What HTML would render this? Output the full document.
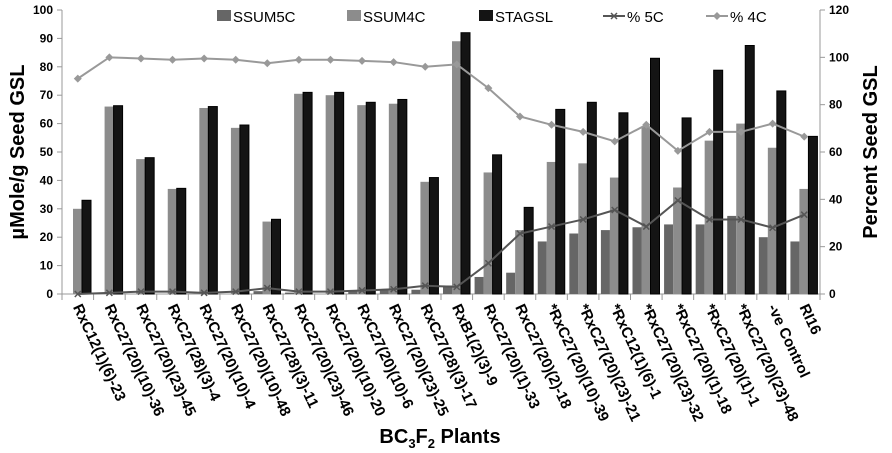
<!DOCTYPE html>
<html><head><meta charset="utf-8"><style>
body{margin:0;background:#fff}
svg{display:block;font-family:"Liberation Sans",sans-serif}
</style></head><body>
<svg id="c" width="892" height="453"></svg>
<script>
const categories=["RxC12(1)(6)-23","RxC27(20)(10)-36","RxC27(20)(23)-45","RxC27(28)(3)-4","RxC27(20)(10)-4","RxC27(20)(10)-48","RxC27(28)(3)-11","RxC27(20)(23)-46","RxC27(20)(10)-20","RxC27(20)(10)-6","RxC27(20)(23)-25","RxC27(28)(3)-17","RxB1(2)(3)-9","RxC27(20)(1)-33","RxC27(20)(2)-18","*RxC27(20)(10)-39","*RxC27(20)(23)-21","*RxC12(1)(6)-1","*RxC27(20)(23)-32","*RxC27(20)(1)-18","*RxC27(20)(1)-1","*RxC27(20)(23)-48","-ve Control","RI16"];
const ssum5c=[0,0,0,0,0,0,1,0.5,0,1,1.5,1.5,3,6,7.5,18.5,21.3,22.5,23.5,24.5,24.5,27.5,20,18.5];
const ssum4c=[30,66,47.5,37,65.5,58.5,25.5,70.5,70,66.5,67,39.5,89,42.8,22.5,46.5,46,41,59,37.5,54,60,51.5,37];
const stagsl=[33,66.3,48,37.2,66,59.5,26.3,71,71,67.5,68.5,41,92,49,30.5,65,67.5,63.8,83,62,78.8,87.5,71.5,55.5];
const pct4c=[91,100,99.5,99,99.5,99,97.5,99,99,98.5,98,96,97,87,75,71.5,68.5,64.5,71.5,60.5,68.5,68.5,72,66.5];
const pct5c=[0,0.5,1,1,0.5,1,2.5,1,1,1.5,2,3.5,3,13,25.5,28.5,31.5,35.5,28.5,39.5,31.5,31.5,28,33.5];
const leftTicks=[0,10,20,30,40,50,60,70,80,90,100];
const rightTicks=[0,20,40,60,80,100,120];

const NS="http://www.w3.org/2000/svg";
const svg=document.getElementById('c');
const X0=62,X1=820,Y0=294,Y1=10;
const cw=(X1-X0)/categories.length;
const yL=v=>Y0-(v/100)*(Y0-Y1);
const yR=v=>Y0-(v/120)*(Y0-Y1);
const xC=i=>X0+cw*(i+0.5);
function mk(tag,attrs,parent){const e=document.createElementNS(NS,tag);for(const k in attrs)e.setAttribute(k,attrs[k]);(parent||svg).appendChild(e);return e;}

// axes
let a=mk('line',{x1:X0,y1:Y1,x2:X0,y2:Y0,stroke:'#999'});


a=mk('line',{x1:X1,y1:Y1,x2:X1,y2:Y0,stroke:'#999'});


a=mk('line',{x1:X0,y1:Y0,x2:X1,y2:Y0,stroke:'#999'});


leftTicks.forEach(v=>{
  mk('line',{x1:X0-5,x2:X0,y1:yL(v),y2:yL(v),stroke:'#999'});
  const t=mk('text',{x:X0-9,y:yL(v)+4,'text-anchor':'end','font-size':12,'font-weight':'bold'});
  t.textContent=v;
  
  
});
rightTicks.forEach(v=>{
  mk('line',{x1:X1,x2:X1+5,y1:yR(v),y2:yR(v),stroke:'#999'});
  const t=mk('text',{x:X1+9,y:yR(v)+4,'font-size':12,'font-weight':'bold'});
  t.textContent=v;
  
  
});
for(let i=0;i<=categories.length;i++){
  mk('line',{x1:X0+cw*i,x2:X0+cw*i,y1:Y0,y2:Y0+6,stroke:'#999'});
}
// bars
const bw=9;
categories.forEach((c,i)=>{
  const left=X0+cw*i+2;
  [[ssum5c,'#666','none','bar-ssum5c'],[ssum4c,'#8c8c8c','none','bar-ssum4c'],[stagsl,'#141414','#000','bar-stagsl']].forEach((s,k)=>{
    const v=s[0][i];
    const r=mk('rect',{x:left+k*bw,y:yL(v),width:bw,height:Y0-yL(v),fill:s[1],stroke:s[2]});
    
    
  });
  const t=mk('text',{x:0,y:0,'font-size':15,'font-weight':'bold',transform:`translate(${xC(i)-5},${Y0+13}) rotate(65)`});
  t.textContent=c;
  
  
});
// lines
function line(data,color,name){
  const p=mk('polyline',{points:data.map((v,i)=>xC(i)+','+yR(v)).join(' '),fill:'none',stroke:color,'stroke-width':2});
  
  
}
line(pct4c,'#999','line-pct4c');
line(pct5c,'#555','line-pct5c');
pct4c.forEach((v,i)=>{
  const x=xC(i),y=yR(v);
  const m=mk('polygon',{points:`${x},${y-4} ${x+4},${y} ${x},${y+4} ${x-4},${y}`,fill:'#999'});
  
  
});
pct5c.forEach((v,i)=>{
  const x=xC(i),y=yR(v);
  const m=mk('path',{d:`M${x-3},${y-3}L${x+3},${y+3}M${x-3},${y+3}L${x+3},${y-3}`,stroke:'#555','stroke-width':1.5});
  
  
});
// legend
function legRect(x,color,label,name){
  const g=mk('g',{});
  
  
  mk('rect',{x:x,y:10,width:14,height:11,fill:color},g);
  const t=mk('text',{x:x+16,y:22,'font-size':15},g);t.textContent=label;
}
legRect(217,'#666','SSUM5C','legend-ssum5c');
legRect(347,'#8c8c8c','SSUM4C','legend-ssum4c');
legRect(479,'#141414','STAGSL','legend-stagsl');
function legLine(x,color,label,name,diamond){
  const g=mk('g',{});
  
  
  mk('line',{x1:x,x2:x+22,y1:16,y2:16,stroke:color,'stroke-width':2},g);
  const c=x+11;
  if(diamond) mk('polygon',{points:`${c},12 ${c+4},16 ${c},20 ${c-4},16`,fill:color},g);
  else mk('path',{d:`M${c-3},13L${c+3},19M${c-3},19L${c+3},13`,stroke:color,'stroke-width':1.5},g);
  const t=mk('text',{x:x+24,y:22,'font-size':15},g);t.textContent=label;
}
legLine(603,'#555','% 5C','legend-pct5c',false);
legLine(706,'#999','% 4C','legend-pct4c',true);
// titles
let t=mk('text',{transform:'translate(24,152) rotate(-90)','text-anchor':'middle','font-size':20,'font-weight':'bold'});
t.textContent='µMole/g Seed GSL';


t=mk('text',{transform:'translate(877,152) rotate(-90)','text-anchor':'middle','font-size':20,'font-weight':'bold'});
t.textContent='Percent Seed GSL';


t=mk('text',{x:440,y:443,'text-anchor':'middle','font-size':20,'font-weight':'bold'});
t.innerHTML='BC<tspan font-size="13" dy="5">3</tspan><tspan dy="-5">F</tspan><tspan font-size="13" dy="5">2</tspan><tspan dy="-5"> Plants</tspan>';


</script>
</body></html>
